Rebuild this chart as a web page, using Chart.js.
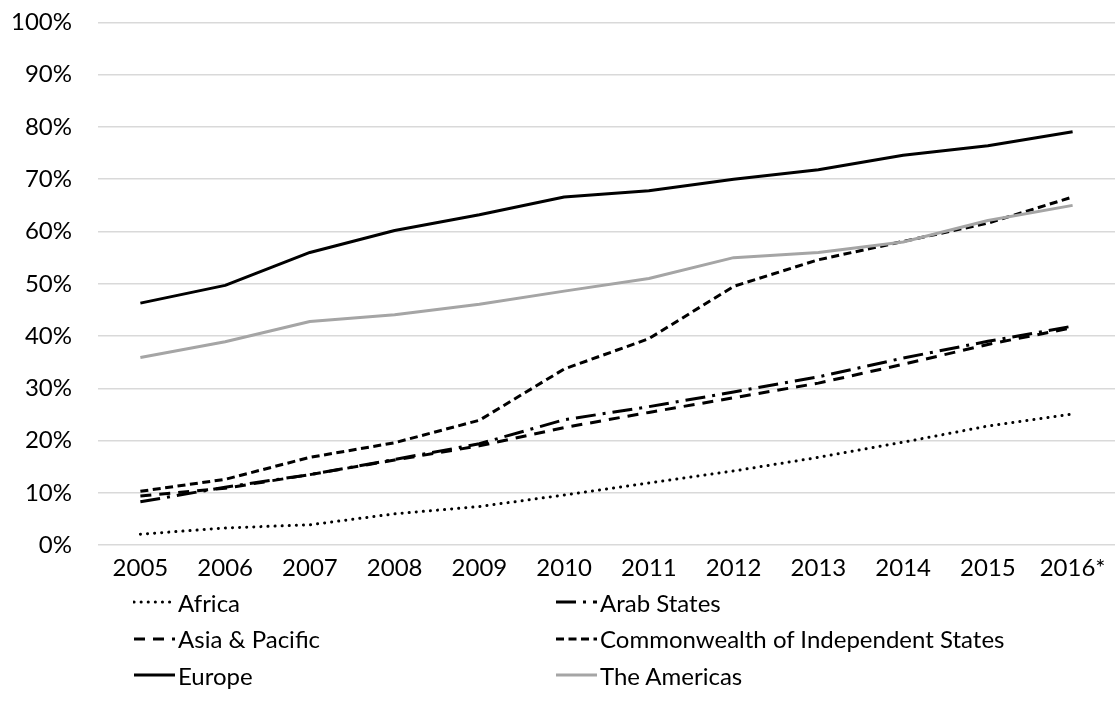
<!DOCTYPE html>
<html>
<head>
<meta charset="utf-8">
<script src="https://cdn.jsdelivr.net/npm/chart.js@4/dist/chart.umd.min.js"></script>
<style>
    html, body { margin: 0; padding: 0; background: #fff; }
    #wrap { position: relative; width: 1115px; height: 716px; overflow: hidden; }
    #chart { position: absolute; left: 0; top: -18px; }
    #legend {
        position: absolute; left: 133px; top: 584px;
        display: grid; grid-template-columns: 422px 500px; grid-auto-rows: 36.5px;
        font-family: Lato, sans-serif; font-size: 24px; color: #000;
    }
    .item { display: flex; align-items: center; white-space: nowrap; }
    .item svg { margin-right: 3px; }
</style>
</head>
<body>
<div id="wrap">
    <canvas id="chart" width="1115" height="734"></canvas>
    <div id="legend"></div>
</div>
<script>
// Years on the x axis
const years = ['2005', '2006', '2007', '2008', '2009', '2010', '2011', '2012', '2013', '2014', '2015', '2016*'];

// Share of individuals using the Internet, in percent
const africa   = [2.1, 3.3, 3.9, 6.0, 7.4, 9.6, 11.9, 14.2, 16.8, 19.7, 22.8, 25.1];
const arab     = [8.3, 11.1, 13.5, 16.4, 19.4, 24.0, 26.5, 29.3, 32.2, 35.8, 39.0, 41.9];
const asia     = [9.4, 10.9, 13.5, 16.3, 19.0, 22.5, 25.4, 28.2, 31.0, 34.6, 38.4, 41.6];
const cis      = [10.3, 12.6, 16.8, 19.6, 23.9, 33.7, 39.5, 49.5, 54.6, 58.1, 61.6, 66.6];
const europe   = [46.3, 49.7, 56.0, 60.2, 63.2, 66.6, 67.8, 70.0, 71.8, 74.6, 76.4, 79.1];
const americas = [35.9, 38.9, 42.8, 44.1, 46.1, 48.6, 51.0, 55.0, 56.0, 58.0, 62.1, 65.0];

const seriesNames = ['Africa', 'Arab States', 'Asia & Pacific', 'Commonwealth of Independent States', 'Europe', 'The Americas'];
const yTicks = [0, 10, 20, 30, 40, 50, 60, 70, 80, 90, 100];

const FONT = 'Lato, sans-serif';

// line styles per series (Excel-ish dash types)
const styles = [
    { color: '#000000', dash: [0.1, 7], cap: 'round' },   // round dot
    { color: '#000000', dash: [20, 7, 3, 7], cap: 'butt' }, // long dash dot
    { color: '#000000', dash: [11, 8], cap: 'butt' },      // dash
    { color: '#000000', dash: [8, 4.5], cap: 'butt' },     // short dash
    { color: '#000000', dash: [], cap: 'butt' },           // solid
    { color: '#A5A5A5', dash: [], cap: 'butt' }            // solid grey
];

const values = [africa, arab, asia, cis, europe, americas];

const datasets = values.map((v, i) => ({
    label: seriesNames[i],
    data: v,
    borderColor: styles[i].color,
    backgroundColor: styles[i].color,
    borderWidth: 3,
    borderDash: styles[i].dash,
    borderCapStyle: styles[i].cap,
    borderJoinStyle: 'round',
    pointRadius: 0,
    tension: 0,
    fill: false,
    order: values.length - i // later series drawn on top, like Excel
}));

const chart = new Chart(document.getElementById('chart'), {
    type: 'line',
    data: { labels: years, datasets: datasets },
    options: {
        responsive: false,
        animation: false,
        layout: { padding: { top: -10, left: 0, right: 0, bottom: 124 } },
        plugins: {
            legend: { display: false },
            tooltip: { enabled: false }
        },
        scales: {
            x: {
                offset: true,
                grid: { display: false, drawTicks: false },
                border: { display: false },
                ticks: { color: '#000', padding: 9, font: { family: FONT, size: 24 }, maxRotation: 0 }
            },
            y: {
                min: 0,
                max: 100,
                afterBuildTicks: (axis) => { axis.ticks = yTicks.map(v => ({ value: v })); },
                afterFit: (axis) => { axis.width = 98; },
                grid: { color: '#D9D9D9', lineWidth: 1.5, drawTicks: false },
                border: { display: false },
                ticks: {
                    color: '#000', padding: 26,
                    font: { family: FONT, size: 24 },
                    callback: (v) => v + '%'
                }
            }
        }
    }
});

// HTML legend in two columns, built from the datasets
const legend = document.getElementById('legend');
chart.data.datasets.forEach((ds, i) => {
    const item = document.createElement('div');
    item.className = 'item';
    const dashAttr = ds.borderDash.length ? ` stroke-dasharray="${ds.borderDash.join(' ')}"` : '';
    item.innerHTML =
        `<svg width="42" height="10"><line x1="1" y1="5" x2="42" y2="5" stroke="${ds.borderColor}" ` +
        `stroke-width="3" stroke-linecap="${ds.borderCapStyle}"${dashAttr}/></svg>` +
        `<span>${ds.label.replace('&', '&amp;')}</span>`;
    legend.appendChild(item);
});
</script>
</body>
</html>
